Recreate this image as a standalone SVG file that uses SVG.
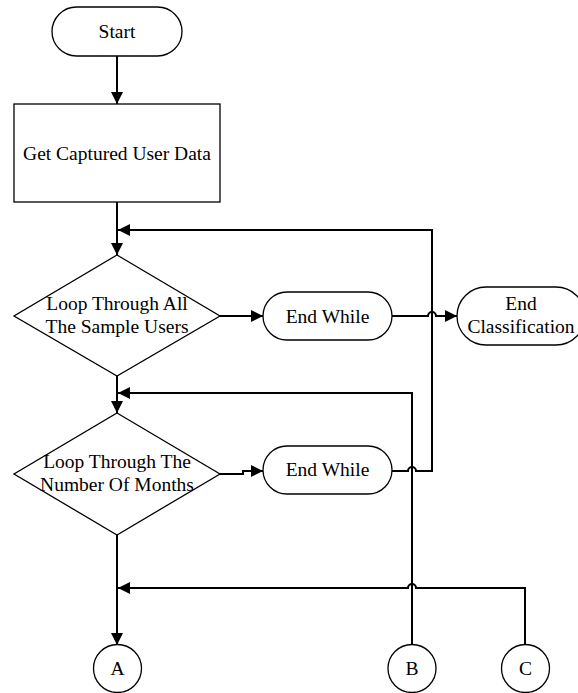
<svg xmlns="http://www.w3.org/2000/svg" width="578" height="693" viewBox="0 0 578 693">
  <style>
    .shape { fill: #ffffff; stroke: #000000; stroke-width: 1.3; }
    .link { fill: none; stroke: #000000; stroke-width: 2; }
    .label { font-family: 'Liberation Serif', 'DejaVu Serif', serif; font-size: 19.5px; fill: #000000; text-anchor: middle; }
  </style>
  <defs>
    <marker id="arrow" markerUnits="userSpaceOnUse" markerWidth="12" markerHeight="12" refX="12" refY="6" orient="auto">
      <path d="M0,0 L12,6 L0,12 z" fill="#000000"/>
    </marker>
  </defs>
  <rect width="578" height="693" fill="#ffffff"/>

  <g id="connectors">
    <!-- main vertical flow -->
    <path class="link" d="M117,56 V104" marker-end="url(#arrow)"/>
    <path class="link" d="M117,202 V255" marker-end="url(#arrow)"/>
    <path class="link" d="M117,376 V413" marker-end="url(#arrow)"/>
    <path class="link" d="M117,535 V645" marker-end="url(#arrow)"/>
    <!-- outer loop exit -->
    <path class="link" d="M220,316 H263" marker-end="url(#arrow)"/>
    <path class="link" d="M392,316 H428 A4,4 0 0 1 436,316 H457" marker-end="url(#arrow)"/>
    <!-- inner loop exit, back to outer loop -->
    <path class="link" d="M220,474 H243 V471 H263" marker-end="url(#arrow)"/>
    <path class="link" d="M392,471 H408 A4,4 0 0 1 416,471 H432 V230 H118" marker-end="url(#arrow)"/>
    <!-- B back to inner loop -->
    <path class="link" d="M412,645 V393 H118" marker-end="url(#arrow)"/>
    <!-- C back to A -->
    <path class="link" d="M525,645 V588 H416 A4,4 0 0 0 408,588 H118" marker-end="url(#arrow)"/>
  </g>

  <g id="start">
    <rect class="shape" x="52" y="7" width="130" height="49" rx="24.5"/>
    <text class="label" font-family="Liberation Serif, serif" x="117" y="38">Start</text>
  </g>

  <g id="get-data">
    <rect class="shape" x="14" y="104" width="206" height="98"/>
    <text class="label" font-family="Liberation Serif, serif" x="117" y="160">Get Captured User Data</text>
  </g>

  <g id="loop-users">
    <polygon class="shape" points="117,255 220,316 117,376 14,316"/>
    <text class="label" font-family="Liberation Serif, serif" x="117" y="310">Loop Through All</text>
    <text class="label" font-family="Liberation Serif, serif" x="117" y="333">The Sample Users</text>
  </g>

  <g id="end-while-1">
    <rect class="shape" x="263" y="292" width="129" height="48" rx="24"/>
    <text class="label" font-family="Liberation Serif, serif" x="327.5" y="322.5">End While</text>
  </g>

  <g id="end-classification">
    <rect class="shape" x="457" y="287" width="128" height="58" rx="29"/>
    <text class="label" font-family="Liberation Serif, serif" x="521" y="310">End</text>
    <text class="label" font-family="Liberation Serif, serif" x="521" y="333">Classification</text>
  </g>

  <g id="loop-months">
    <polygon class="shape" points="117,413 220,474 117,535 14,474"/>
    <text class="label" font-family="Liberation Serif, serif" x="117" y="468">Loop Through The</text>
    <text class="label" font-family="Liberation Serif, serif" x="117" y="491">Number Of Months</text>
  </g>

  <g id="end-while-2">
    <rect class="shape" x="263" y="446" width="129" height="48" rx="24"/>
    <text class="label" font-family="Liberation Serif, serif" x="327.5" y="476">End While</text>
  </g>

  <g id="connector-a">
    <circle class="shape" cx="117.5" cy="668.5" r="24"/>
    <text class="label" font-family="Liberation Serif, serif" x="117.5" y="675">A</text>
  </g>

  <g id="connector-b">
    <circle class="shape" cx="412" cy="668.5" r="24"/>
    <text class="label" font-family="Liberation Serif, serif" x="412" y="675">B</text>
  </g>

  <g id="connector-c">
    <circle class="shape" cx="525.5" cy="668.5" r="24"/>
    <text class="label" font-family="Liberation Serif, serif" x="525.5" y="675">C</text>
  </g>
</svg>
